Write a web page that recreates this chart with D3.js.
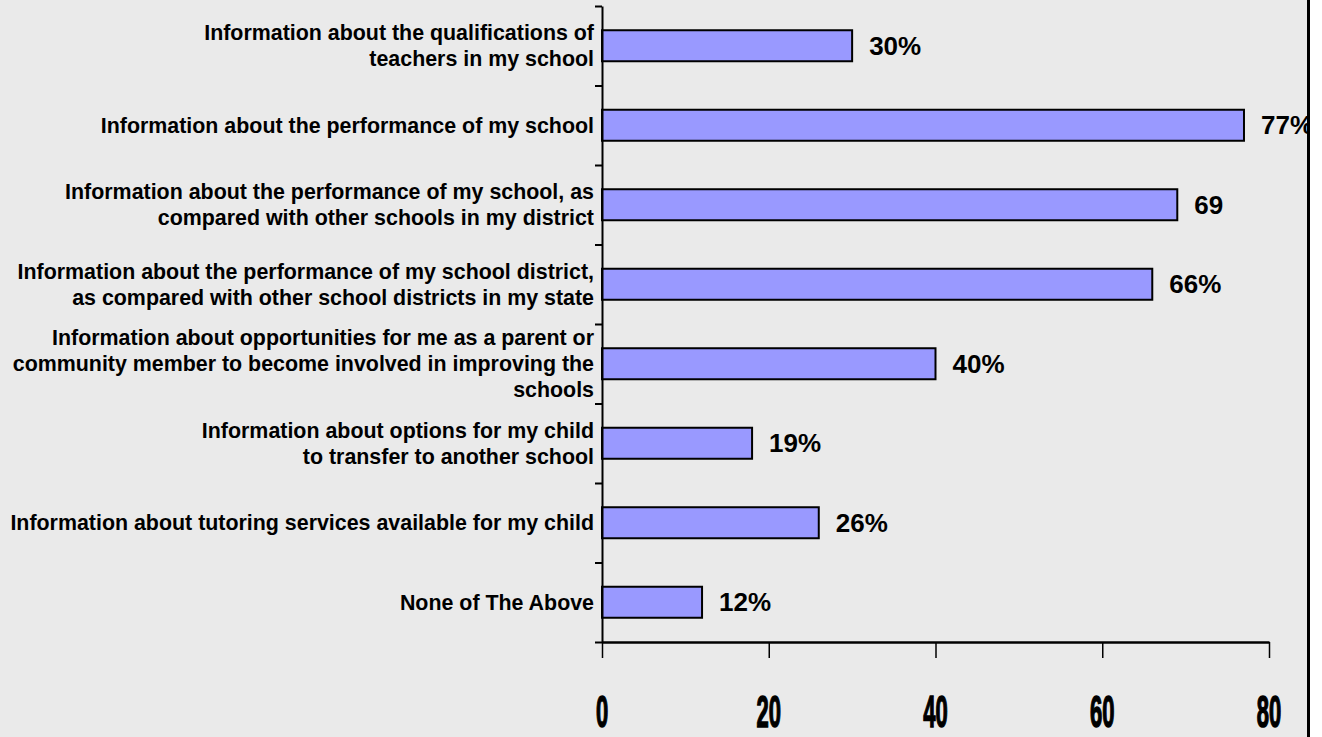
<!DOCTYPE html>
<html>
<head>
<meta charset="utf-8">
<script src="https://cdn.jsdelivr.net/npm/d3@7"></script>
<style>
  html, body { margin: 0; padding: 0; background: #ffffff; }
  svg { display: block; }
</style>
</head>
<body>
<script>
// ---- data ----
const categories = [
  ["Information about the qualifications of", "teachers in my school"],
  ["Information about the performance of my school"],
  ["Information about the performance of my school, as", "compared with other schools in my district"],
  ["Information about the performance of my school district,", "as compared with other school districts in my state"],
  ["Information about opportunities for me as a parent or", "community member to become involved in improving the", "schools"],
  ["Information about options for my child", "to transfer to another school"],
  ["Information about tutoring services available for my child"],
  ["None of The Above"]
];
const values = [30, 77, 69, 66, 40, 18, 26, 12];
const valueLabels = ["30%", "77%", "69", "66%", "40%", "19%", "26%", "12%"];
const xTicks = [0, 20, 40, 60, 80];
const xTickLabels = ["0", "20", "40", "60", "80"];

// ---- layout ----
const W = 1322, H = 737;
const plotLeft = 602, plotRight = 1269, plotTop = 6, plotBottom = 642;

const svg = d3.select("body").append("svg").attr("width", W).attr("height", H);

svg.append("rect").attr("x", 0).attr("y", 0).attr("width", 1308).attr("height", H).attr("fill", "#eaeaea");

const x = d3.scaleLinear().domain([0, 80]).range([plotLeft, plotRight]);
const idx = d3.range(categories.length);
const y = d3.scaleBand().domain(idx).range([plotTop, plotBottom]).paddingInner(0.61).paddingOuter(0.305);
const yTicks = d3.scaleLinear().domain([0, categories.length]).range([plotTop, plotBottom]);

// bars
svg.append("g").selectAll("rect").data(values).join("rect")
  .attr("x", x(0))
  .attr("y", (d, i) => y(i))
  .attr("width", d => x(d) - x(0))
  .attr("height", y.bandwidth())
  .attr("fill", "#9999ff")
  .attr("stroke", "#000")
  .attr("stroke-width", 2);

// value labels
svg.append("g").selectAll("text").data(values).join("text")
  .attr("x", d => x(d) + 17)
  .attr("y", (d, i) => y(i) + y.bandwidth() / 2)
  .attr("dy", "0.35em")
  .attr("font-family", "'Liberation Sans', Arial, sans-serif")
  .attr("font-weight", "bold")
  .attr("font-size", 26)
  .attr("fill", "#000")
  .text((d, i) => valueLabels[i]);

// y axis
const yAxis = svg.append("g").attr("transform", `translate(${plotLeft},0)`)
  .call(d3.axisLeft(yTicks).ticks(categories.length).tickSize(7).tickSizeOuter(0).tickFormat(""));
yAxis.selectAll("path, line").attr("stroke", "#000").attr("stroke-width", 2);

// x axis
const xAxis = svg.append("g").attr("transform", `translate(0,${plotBottom})`)
  .call(d3.axisBottom(x).tickValues(xTicks).tickSize(16).tickSizeOuter(0).tickFormat(""));
xAxis.select("path").attr("stroke", "#000").attr("stroke-width", 2.5);
xAxis.selectAll("line").attr("stroke", "#000").attr("stroke-width", 1.5);

// x tick labels (condensed tall)
svg.append("g").selectAll("g").data(xTicks).join("g")
  .attr("transform", d => `translate(${x(d)},727) scale(0.5,1)`)
  .append("text")
  .attr("text-anchor", "middle")
  .attr("font-family", "'Liberation Sans', Arial, sans-serif")
  .attr("font-weight", "bold")
  .attr("font-size", 44)
  .attr("fill", "#000")
  .attr("stroke", "#000")
  .attr("stroke-width", 1.5)
  .text((d, i) => xTickLabels[i]);

// category labels
const lineH = 26;
const lab = svg.append("g").selectAll("text").data(categories).join("text")
  .attr("x", 594)
  .attr("y", (d, i) => y(i) + y.bandwidth() / 2 - (d.length - 1) * lineH / 2)
  .attr("text-anchor", "end")
  .attr("font-family", "'Liberation Sans', Arial, sans-serif")
  .attr("font-weight", "bold")
  .attr("font-size", 21.4)
  .attr("fill", "#000");
lab.each(function(d) {
  const t = d3.select(this);
  d.forEach((line, k) => {
    t.append("tspan").attr("x", 594).attr("dy", k === 0 ? "0.35em" : lineH).text(line);
  });
});

// right border (on top)
svg.append("rect").attr("x", 1308).attr("y", 0).attr("width", W - 1308).attr("height", H).attr("fill", "#ffffff");
svg.append("line").attr("x1", 1308.5).attr("x2", 1308.5).attr("y1", 0).attr("y2", H)
  .attr("stroke", "#000").attr("stroke-width", 3);
</script>
</body>
</html>
